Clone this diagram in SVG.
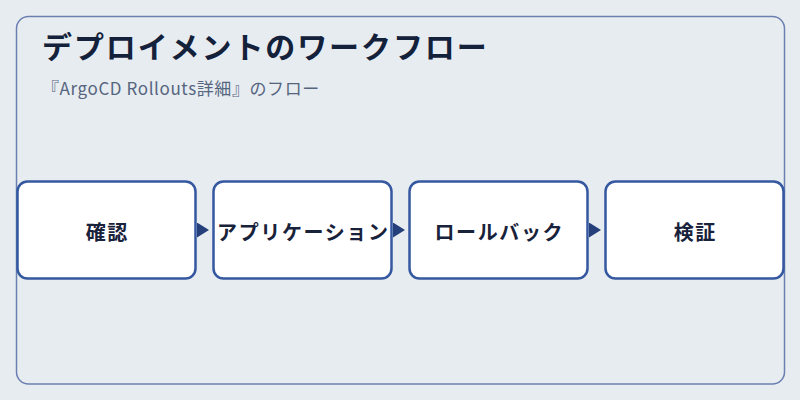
<svg xmlns="http://www.w3.org/2000/svg" width="800" height="400" viewBox="0 0 800 400">
<defs>
<style>
.node rect{fill:#ffffff;stroke:#3558a0;stroke-width:2.5}
.node text{font-family:"Noto Sans CJK JP","Noto Sans",sans-serif;font-size:20px;font-weight:bold;fill:#18223a;text-anchor:middle;dominant-baseline:central;letter-spacing:1.6px}
.conn line{stroke:#253f7a;stroke-width:2}
</style>
<marker id="arr" viewBox="0 0 10 10" refX="10" refY="5" markerWidth="12" markerHeight="15" markerUnits="userSpaceOnUse" orient="auto" preserveAspectRatio="none">
<path d="M0,0 L10,5 L0,10 Z" fill="#253f7a"/>
</marker>
</defs>
<rect width="800" height="400" fill="#e7ecf1"/>
<rect x="16.5" y="16.5" width="768" height="367.5" rx="12" fill="#e7ecf1" stroke="#6b80b0" stroke-width="1.5"/>
<text x="42" y="58" font-family="'Noto Sans CJK JP','Noto Sans',sans-serif" font-size="30" font-weight="bold" fill="#14213a" letter-spacing="1.9">デプロイメントのワークフロー</text>
<text x="42" y="95" font-family="'Noto Sans CJK JP','Noto Sans',sans-serif" font-size="17" fill="#56657e" letter-spacing="0.6">『ArgoCD Rollouts詳細』のフロー</text>
<g class="conn">
<line x1="197" y1="230" x2="209" y2="230" stroke-opacity="0" marker-end="url(#arr)"/>
<line x1="393" y1="230" x2="405" y2="230" stroke-opacity="0" marker-end="url(#arr)"/>
<line x1="589" y1="230" x2="601" y2="230" stroke-opacity="0" marker-end="url(#arr)"/>
</g>
<g id="node-1" class="node"><rect x="17.5" y="181.5" width="178" height="97" rx="10"/><text x="107.3" y="231">確認</text></g>
<g id="node-2" class="node"><rect x="213.5" y="181.5" width="178" height="97" rx="10"/><text x="303.3" y="231">アプリケーション</text></g>
<g id="node-3" class="node"><rect x="409.5" y="181.5" width="178" height="97" rx="10"/><text x="499.3" y="231">ロールバック</text></g>
<g id="node-4" class="node"><rect x="605.5" y="181.5" width="178" height="97" rx="10"/><text x="695.3" y="231">検証</text></g>
</svg>
